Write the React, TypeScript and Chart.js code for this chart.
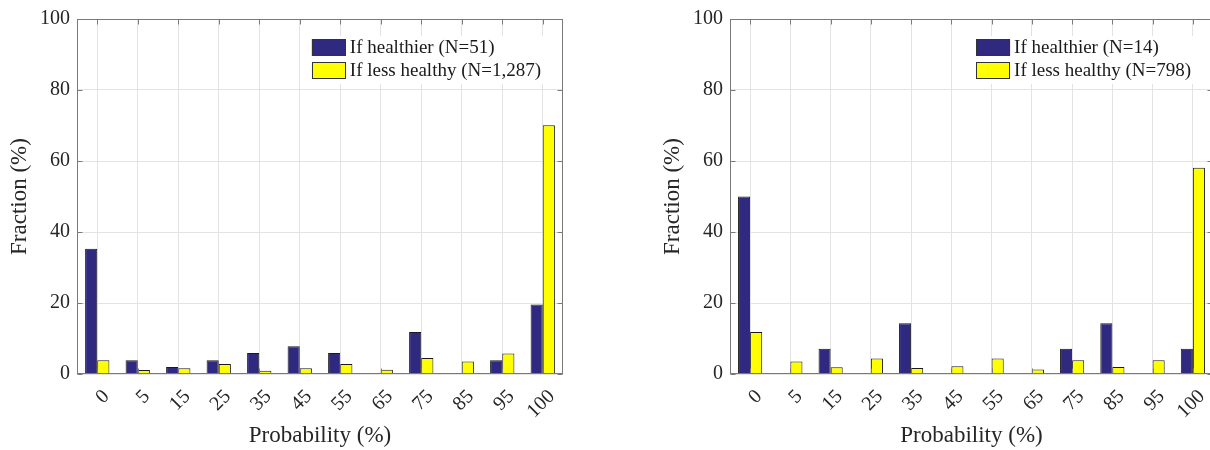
import React, { useEffect, useRef } from 'react';
import { Chart, registerables } from 'chart.js';

Chart.register(...registerables);

const categories = ['0', '5', '15', '25', '35', '45', '55', '65', '75', '85', '95', '100'];

const healthierLeft = [35.3, 3.9, 2.0, 3.9, 5.9, 7.8, 5.9, 0, 11.8, 0, 3.9, 19.6];
const lessHealthyLeft = [3.9, 1.1, 1.6, 2.8, 0.9, 1.6, 2.8, 1.2, 4.5, 3.5, 5.8, 70.1];
const labelsLeft = ['If healthier (N=51)', 'If less healthy (N=1,287)'];

const healthierRight = [50.0, 0, 7.1, 0, 14.3, 0, 0, 0, 7.1, 14.3, 0, 7.1];
const lessHealthyRight = [11.8, 3.5, 1.9, 4.4, 1.7, 2.2, 4.4, 1.3, 3.9, 2.0, 3.9, 58.1];
const labelsRight = ['If healthier (N=14)', 'If less healthy (N=798)'];

const yTicks = [0, 20, 40, 60, 80, 100];

const NAVY = '#2f2a80';
const YELLOW = '#ffff00';
const TEXT = '#262626';
const FRAME = '#7a7a7a';
const GRID = '#e3e3e3';
const FONT = "'Liberation Serif', 'Times New Roman', serif";

const framePlugin = {
  id: 'matlabFrame',
  afterDraw(chart: any) {
    const { ctx, chartArea: a, scales } = chart;
    ctx.save();
    ctx.strokeStyle = FRAME;
    ctx.lineWidth = 1;
    const L = Math.round(a.left) + 0.5;
    const R = Math.round(a.right) - 0.5;
    const T = Math.round(a.top) + 0.5;
    const B = Math.round(a.bottom) - 0.5;
    ctx.beginPath();
    scales.x.ticks.forEach((_: any, i: number) => {
      const px = Math.round(scales.x.getPixelForTick(i)) + 0.5;
      ctx.moveTo(px, B);
      ctx.lineTo(px, B - 5);
      ctx.moveTo(px, T);
      ctx.lineTo(px, T + 5);
    });
    scales.y.ticks.forEach((_: any, i: number) => {
      const py = Math.round(scales.y.getPixelForTick(i)) + 0.5;
      ctx.moveTo(L, py);
      ctx.lineTo(L + 5, py);
      ctx.moveTo(R, py);
      ctx.lineTo(R - 5, py);
    });
    ctx.stroke();
    ctx.strokeRect(L, T, R - L, B - T);

    // legend
    const ds = chart.data.datasets;
    ctx.font = `19px ${FONT}`;
    const widths = ds.map((d: any) => ctx.measureText(d.label).width);
    const textW = Math.max(...widths);
    const textEnd = a.right - 22;
    const textStart = textEnd - textW;
    const swR = textStart - 4;
    const swL = swR - 34;
    ctx.fillStyle = '#ffffff';
    ctx.fillRect(swL - 6, a.top + 17, textEnd - swL + 12, 48);
    ds.forEach((d: any, i: number) => {
      const top = a.top + 20 + i * 23;
      ctx.fillStyle = d.backgroundColor;
      ctx.fillRect(swL, top, 34, 17);
      ctx.strokeStyle = '#333333';
      ctx.lineWidth = 1;
      ctx.strokeRect(Math.round(swL) + 0.5, top + 0.5, 33, 16);
      ctx.fillStyle = '#1a1a1a';
      ctx.textAlign = 'left';
      ctx.textBaseline = 'middle';
      ctx.fillText(d.label, textStart, top + 9);
    });
    ctx.restore();
  },
};

function makeConfig(h: number[], l: number[], labels: string[], padRight: number): any {
  return {
    type: 'bar',
    data: {
      labels: categories,
      datasets: [
        {
          label: labels[0],
          data: h,
          backgroundColor: NAVY,
          borderColor: '#1a1a1a',
          borderWidth: 1,
          categoryPercentage: 0.6,
          barPercentage: 1,
        },
        {
          label: labels[1],
          data: l,
          backgroundColor: YELLOW,
          borderColor: '#1a1a1a',
          borderWidth: 1,
          categoryPercentage: 0.6,
          barPercentage: 1,
        },
      ],
    },
    options: {
      responsive: false,
      maintainAspectRatio: false,
      animation: false,
      devicePixelRatio: 1,
      layout: { padding: { left: 0, top: 16, right: padRight, bottom: 0 } },
      plugins: { legend: { display: false }, tooltip: { enabled: false } },
      scales: {
        x: {
          offset: true,
          grid: { offset: false, color: GRID, drawTicks: false },
          border: { display: false },
          ticks: {
            minRotation: 45,
            maxRotation: 45,
            autoSkip: false,
            padding: 11,
            labelOffset: 9,
            color: TEXT,
            font: { family: FONT, size: 20 },
          },
          title: {
            display: true,
            text: 'Probability (%)',
            color: TEXT,
            font: { family: FONT, size: 23 },
            padding: { top: 0, bottom: 0 },
          },
          afterFit: (axis: any) => {
            axis.height = 76;
          },
        },
        y: {
          min: 0,
          max: 100,
          afterBuildTicks: (axis: any) => {
            axis.ticks = yTicks.map((v) => ({ value: v }));
          },
          grid: { color: GRID, drawTicks: false },
          border: { display: false },
          ticks: {
            padding: 7,
            color: TEXT,
            font: { family: FONT, size: 20 },
          },
          title: {
            display: true,
            text: 'Fraction (%)',
            color: TEXT,
            font: { family: FONT, size: 23 },
            padding: { top: 6, bottom: 0 },
          },
          afterFit: (axis: any) => {
            axis.width = 77;
          },
        },
      },
    },
    plugins: [framePlugin],
  };
}

function BarPanel(props: { h: number[]; l: number[]; labels: string[]; left: number; padRight: number }) {
  const ref = useRef<HTMLCanvasElement>(null);
  useEffect(() => {
    if (!ref.current) return;
    const chart = new Chart(ref.current, makeConfig(props.h, props.l, props.labels, props.padRight));
    return () => chart.destroy();
  }, []);
  return (
    <canvas
      ref={ref}
      width={600}
      height={450}
      style={{ position: 'absolute', left: props.left, top: 0, width: 600, height: 450 }}
    />
  );
}

export default function App() {
  return (
    <div
      style={{
        position: 'absolute',
        left: 0,
        top: 0,
        width: 1210,
        height: 450,
        overflow: 'hidden',
        background: '#ffffff',
      }}
    >
      <BarPanel h={healthierLeft} l={lessHealthyLeft} labels={labelsLeft} left={0} padRight={37} />
      <BarPanel h={healthierRight} l={lessHealthyRight} labels={labelsRight} left={653} padRight={40} />
    </div>
  );
}
